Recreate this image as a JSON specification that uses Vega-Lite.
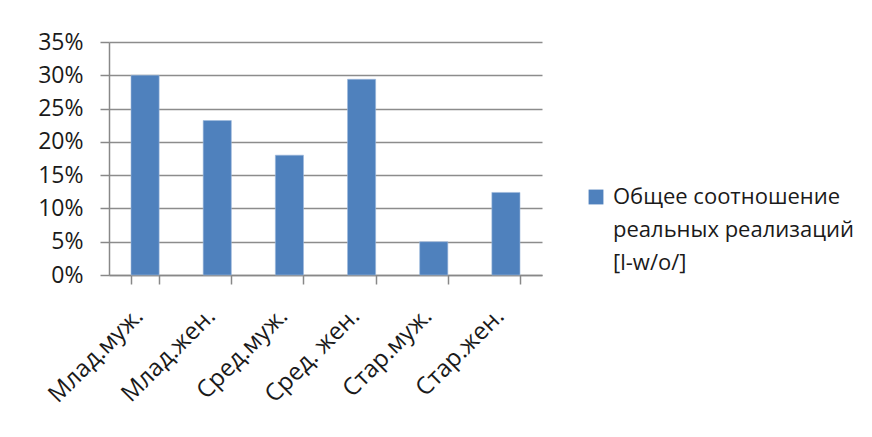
{
  "$schema": "https://vega.github.io/schema/vega-lite/v6.json",
  "autosize": {"type": "none"},
  "width": 433,
  "height": 233,
  "padding": {"left": 109, "top": 42, "right": 330, "bottom": 162},
  "background": "white",
  "data": {
    "values": [
      {"group": "Млад.муж.", "share": 0.30, "series": "Общее соотношение реальных реализаций [l-w/o/]"},
      {"group": "Млад.жен.", "share": 0.232, "series": "Общее соотношение реальных реализаций [l-w/o/]"},
      {"group": "Сред.муж.", "share": 0.18, "series": "Общее соотношение реальных реализаций [l-w/o/]"},
      {"group": "Сред. жен.", "share": 0.294, "series": "Общее соотношение реальных реализаций [l-w/o/]"},
      {"group": "Стар.муж.", "share": 0.05, "series": "Общее соотношение реальных реализаций [l-w/o/]"},
      {"group": "Стар.жен.", "share": 0.124, "series": "Общее соотношение реальных реализаций [l-w/o/]"}
    ]
  },
  "mark": {"type": "bar", "stroke": "#9DB9DC", "strokeWidth": 0.6},
  "encoding": {
    "x": {
      "field": "group",
      "type": "nominal",
      "sort": null,
      "scale": {"paddingInner": 0.61, "paddingOuter": 0.305},
      "axis": {
        "title": null,
        "labelAngle": -45,
        "labelAlign": "right",
        "labelBaseline": "middle",
        "labelFontSize": 24,
        "labelPadding": 28,
        "labelOffset": -6,
        "tickBand": "extent",
        "tickSize": 9,
        "tickColor": "#888888",
        "domainColor": "#888888",
        "domainWidth": 1.5,
        "tickWidth": 1.5,
        "grid": false
      }
    },
    "y": {
      "field": "share",
      "type": "quantitative",
      "scale": {"domain": [0, 0.35], "nice": false},
      "axis": {
        "title": null,
        "values": [0, 0.05, 0.1, 0.15, 0.2, 0.25, 0.3, 0.35],
        "format": ".0%",
        "labelFontSize": 23,
        "tickSize": 9,
        "labelPadding": 17,
        "tickColor": "#888888",
        "tickWidth": 1.5,
        "domainColor": "#888888",
        "domainWidth": 1.5,
        "grid": true,
        "gridColor": "#8C8C8C",
        "gridWidth": 1.5
      }
    },
    "color": {
      "field": "series",
      "type": "nominal",
      "scale": {"range": ["#4F81BD"]},
      "legend": {
        "title": null,
        "orient": "none",
        "legendX": 476,
        "legendY": 144,
        "symbolType": "square",
        "symbolSize": 220,
        "symbolStrokeWidth": 0,
        "labelLimit": 0,
        "labelOffset": 6,
        "labelExpr": "['Общее соотношение', 'реальных реализаций', '[l-w/o/]']"
      }
    }
  },
  "config": {
    "font": "Open Sans",
    "view": {"stroke": null},
    "axis": {"labelFont": "Open Sans", "labelColor": "#1A1A1A"},
    "legend": {"labelFont": "Open Sans", "labelFontSize": 22, "labelColor": "#1A1A1A"},
    "style": {"guide-label": {"lineHeight": 33}}
  }
}
